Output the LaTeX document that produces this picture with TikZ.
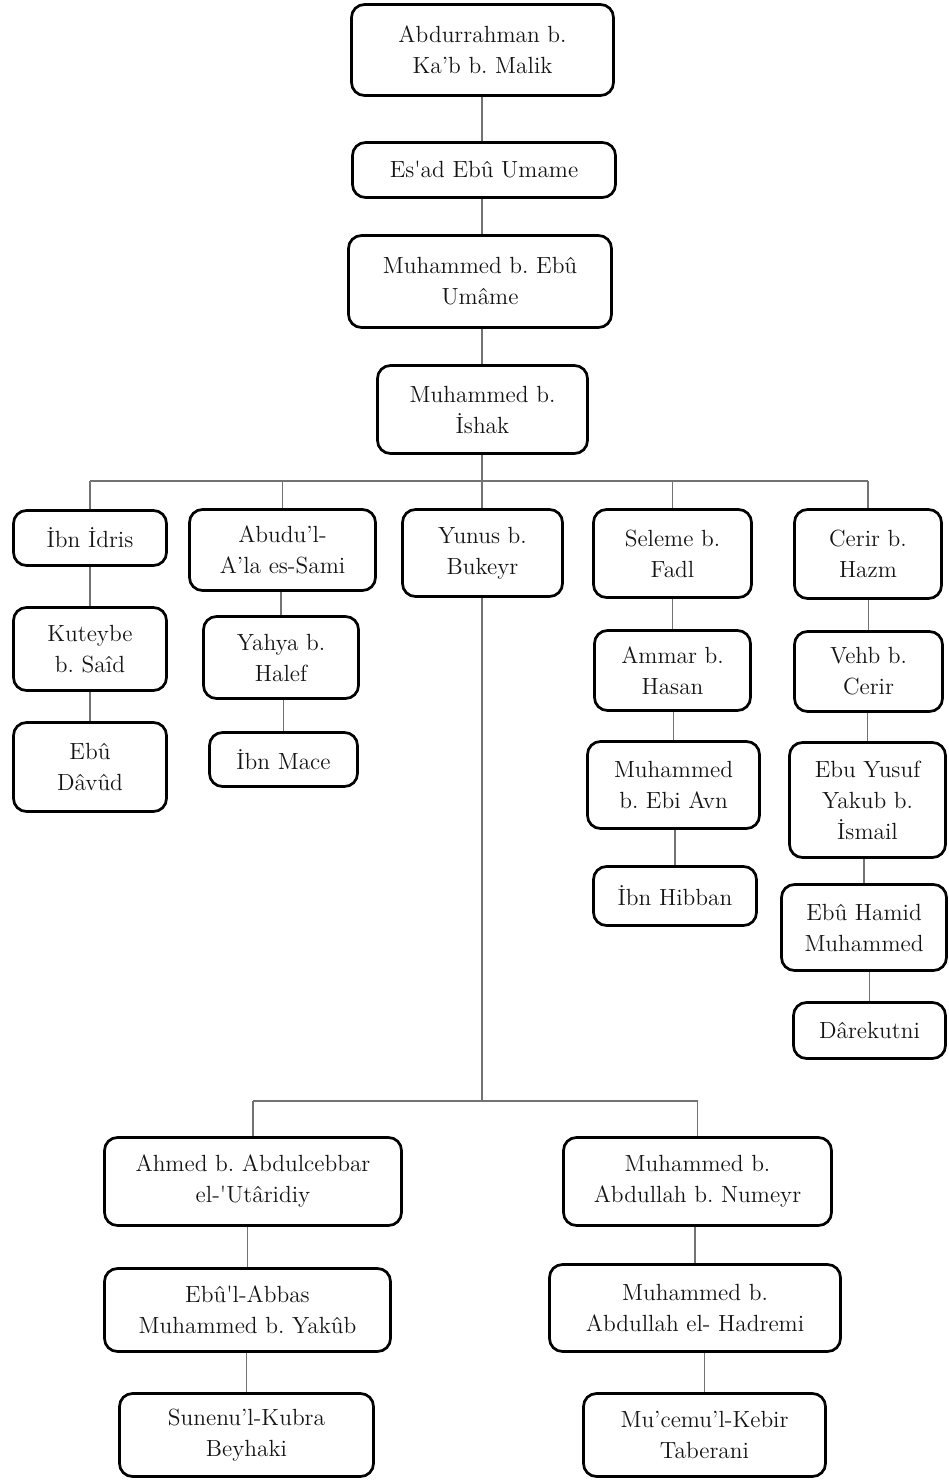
\documentclass[tikz,border=0pt]{standalone}
\usepackage{fontspec}
\frenchspacing
\begin{document}
\begin{tikzpicture}[x=0.5pt,y=-0.5pt,
  box/.style={draw=black, line width=1.35pt, rounded corners=6.5pt, fill=white,
    align=center, inner sep=0pt, text=black!92,
    font=\rmfamily\fontsize{11.7}{15.5}\selectfont},
  conn/.style={draw=black!55, line width=0.65pt}]
\useasboundingbox (0,0) rectangle (948,1481);
% top chain
\node[box, minimum width=131pt, minimum height=45.5pt] (a1) at (482.5,50) {Abdurrahman b.\\Ka’b b. Malik};
\node[box, minimum width=131.5pt, minimum height=27.5pt] (a2) at (484,170) {Es\textquotesingle ad Ebû Umame};
\node[box, minimum width=131.5pt, minimum height=46pt] (a3) at (480,281.5) {Muhammed b. Ebû\\Umâme};
\node[box, minimum width=105pt, minimum height=44pt] (a4) at (482.5,409.5) {Muhammed b.\\İshak};
% row 1
\node[box, minimum width=76.5pt, minimum height=27.5pt] (b1) at (90,538) {İbn İdris};
\node[box, minimum width=76.5pt, minimum height=41.5pt] (b2) at (90,649) {Kuteybe\\b. Saîd};
\node[box, minimum width=76.5pt, minimum height=44.5pt] (b3) at (90,767) {Ebû\\Dâvûd};
\node[box, minimum width=93pt, minimum height=40.5pt] (c1) at (282.5,550) {Abudu’l-\\A’la es-Sami};
\node[box, minimum width=77.5pt, minimum height=41pt] (c2) at (281,657.5) {Yahya b.\\Halef};
\node[box, minimum width=74pt, minimum height=27pt] (c3) at (283.5,759.5) {İbn Mace};
\node[box, minimum width=80pt, minimum height=43.5pt] (d1) at (482.5,553) {Yunus b.\\Bukeyr};
\node[box, minimum width=79pt, minimum height=44pt] (e1) at (672.5,553.5) {Seleme b.\\Fadl};
\node[box, minimum width=78pt, minimum height=40pt] (e2) at (672.5,670.5) {Ammar b.\\Hasan};
\node[box, minimum width=86pt, minimum height=43.5pt] (e3) at (673.5,785) {Muhammed\\b. Ebi Avn};
\node[box, minimum width=81.5pt, minimum height=29.5pt] (e4) at (675,896) {İbn Hibban};
\node[box, minimum width=73.5pt, minimum height=44.5pt] (f1) at (868,554) {Cerir b.\\Hazm};
\node[box, minimum width=74pt, minimum height=40pt] (f2) at (868.5,671.5) {Vehb b.\\Cerir};
\node[box, minimum width=78pt, minimum height=57.5pt] (f3) at (867.5,800) {Ebu Yusuf\\Yakub b.\\İsmail};
\node[box, minimum width=82.5pt, minimum height=43pt] (f4) at (864,927.5) {Ebû Hamid\\Muhammed};
\node[box, minimum width=76pt, minimum height=28pt] (f5) at (869.5,1030.5) {Dârekutni};
% bottom
\node[box, minimum width=148.5pt, minimum height=44pt] (g1) at (253,1181.5) {Ahmed b. Abdulcebbar\\el-\textquotesingle Utâridiy};
\node[box, minimum width=143pt, minimum height=41.5pt] (g2) at (247.5,1310) {Ebû\textquotesingle l-Abbas\\Muhammed b. Yakûb};
\node[box, minimum width=127pt, minimum height=41.5pt] (g3) at (246.5,1435) {Sunenu’l-Kubra\\Beyhaki};
\node[box, minimum width=134pt, minimum height=44pt] (h1) at (697.5,1181.5) {Muhammed b.\\Abdullah b. Numeyr};
\node[box, minimum width=145.5pt, minimum height=43.5pt] (h2) at (695,1308) {Muhammed b.\\Abdullah el- Hadremi};
\node[box, minimum width=121pt, minimum height=41.5pt] (h3) at (704.5,1435) {Mu’cemu’l-Kebir\\Taberani};
% junction points
\coordinate (j1) at (482,481);
\coordinate (j2) at (482,1101);
% top chain connectors
\draw[conn] (a1.south -| j1) -- (a2.north -| j1);
\draw[conn] (a2.south -| j1) -- (a3.north -| j1);
\draw[conn] (a3.south -| j1) -- (a4.north -| j1);
\draw[conn] (a4.south -| j1) -- (d1.north -| j1);
% bus 1
\draw[conn] (b1.north |- j1) -- (f1.north |- j1);
\foreach \n in {b1,c1,e1,f1} \draw[conn] (\n.north) -- (\n.north |- j1);
% columns
\draw[conn] (b1.south) -- (b2.north);
\draw[conn] (b2.south) -- (b3.north);
\draw[conn] (c1.south -| c2.north) -- (c2.north);
\draw[conn] (c2.south -| c3.north) -- (c3.north);
\draw[conn] (e1.south -| e2.north) -- (e2.north);
\draw[conn] (e2.south -| e3.north) -- (e3.north);
\draw[conn] (e3.south -| e4.north) -- (e4.north);
\draw[conn] (f1.south -| f2.north) -- (f2.north);
\draw[conn] (f2.south -| f3.north) -- (f3.north);
\draw[conn] (f3.south -| f4.north) -- (f4.north);
\draw[conn] (f4.south -| f5.north) -- (f5.north);
% Yunus to bus 2
\draw[conn] (d1.south -| j2) -- (j2);
\draw[conn] (g1.north |- j2) -- (h1.north |- j2);
\draw[conn] (g1.north) -- (g1.north |- j2);
\draw[conn] (h1.north) -- (h1.north |- j2);
\draw[conn] (g1.south -| g2.north) -- (g2.north);
\draw[conn] (g2.south -| g3.north) -- (g3.north);
\draw[conn] (h1.south -| h2.north) -- (h2.north);
\draw[conn] (h2.south -| h3.north) -- (h3.north);
\end{tikzpicture}
\end{document}
